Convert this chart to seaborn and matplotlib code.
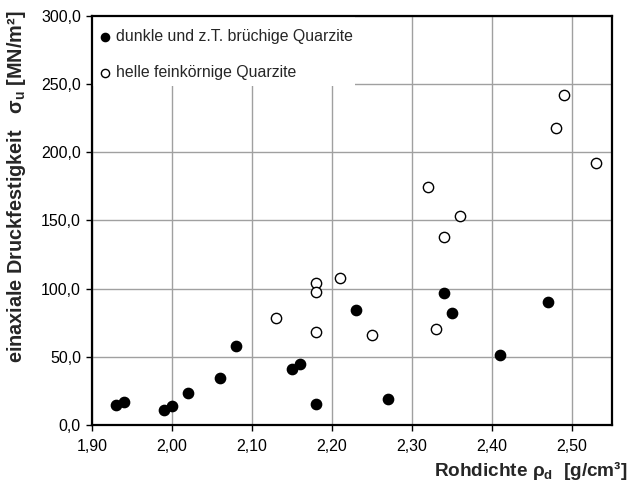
import numpy as np
import pandas as pd
import matplotlib
matplotlib.use("Agg")
import matplotlib.pyplot as plt
import seaborn as sns
from matplotlib.patches import Rectangle
from matplotlib.ticker import FuncFormatter, MultipleLocator

# dark, partly brittle quartzites (filled)
dark_rho = [1.93, 1.94, 1.99, 2.00, 2.02, 2.06, 2.08, 2.15, 2.16, 2.18, 2.23, 2.27, 2.34, 2.35, 2.41, 2.47]
dark_sigma = [14.9, 17.1, 11.0, 14.2, 23.5, 34.7, 57.7, 40.9, 44.7, 15.6, 84.6, 19.3, 97.0, 82.4, 51.6, 90.0]

# light fine-grained quartzites (open)
light_rho = [2.13, 2.18, 2.18, 2.18, 2.21, 2.25, 2.33, 2.32, 2.36, 2.34, 2.49, 2.48, 2.53]
light_sigma = [78.5, 103.9, 97.8, 68.4, 107.6, 66.2, 70.2, 174.3, 153.1, 137.9, 242.0, 217.6, 192.2]

label_dark = "dunkle und z.T. brüchige Quarzite"
label_light = "helle feinkörnige Quarzite"

sns.set_style("ticks")
plt.rcParams["font.family"] = ["Liberation Sans", "DejaVu Sans"]
plt.rcParams["mathtext.fontset"] = "custom"
plt.rcParams["mathtext.rm"] = "Liberation Sans:bold"
plt.rcParams["mathtext.it"] = "Liberation Sans:bold"
plt.rcParams["mathtext.bf"] = "Liberation Sans:bold"

fig = plt.figure(figsize=(6.31, 4.82), dpi=100)
ax = fig.add_axes([0.1458, 0.1183, 0.8242, 0.8485])

sns.scatterplot(x=dark_rho, y=dark_sigma, color="black", edgecolor="black",
                linewidth=1, s=55, label=label_dark, ax=ax, zorder=3)
sns.scatterplot(x=light_rho, y=light_sigma, color="white", edgecolor="black",
                linewidth=1, s=55, label=label_light, ax=ax, zorder=3)

ax.set_xlim(1.90, 2.55)
ax.set_ylim(0, 300)
ax.xaxis.set_major_locator(MultipleLocator(0.1))
ax.yaxis.set_major_locator(MultipleLocator(50))
ax.xaxis.set_major_formatter(FuncFormatter(lambda v, p: f"{v:.2f}".replace(".", ",")))
ax.yaxis.set_major_formatter(FuncFormatter(lambda v, p: f"{v:.1f}".replace(".", ",")))
ax.tick_params(labelsize=11.5, colors="black", length=4, width=1)
ax.tick_params(axis="y", pad=4)
ax.tick_params(axis="x", pad=6)
ax.grid(True, color="#a0a0a0", linewidth=1)
ax.set_axisbelow(True)
for sp in ax.spines.values():
    sp.set_color("black")
    sp.set_linewidth(1.6)

# white area behind the legend (hides the grid there)
ax.add_patch(Rectangle((0, 0.829), 0.506, 0.171, transform=ax.transAxes,
                       facecolor="white", edgecolor="none", zorder=1))

leg = ax.legend(loc="upper left", bbox_to_anchor=(-0.008, 1), borderaxespad=0.0,
                frameon=False, fontsize=11.4, handletextpad=0.36, handlelength=0.6,
                labelspacing=1.35, markerscale=0.8, borderpad=0.8)

ax.set_xlabel(r"Rohdichte $\rho_d$  [g/cm³]", fontsize=13.7, fontweight="bold", loc="right")
ax.xaxis.set_label_coords(1.029, -0.083)
ax.set_ylabel("einaxiale Druckfestigkeit   $\\sigma_u$ [MN/m²]", fontsize=14.3,
              fontweight="bold", loc="top")
ax.yaxis.set_label_coords(-0.123, 1.0147)

plt.savefig("out.png", dpi=100)
plt.close()
